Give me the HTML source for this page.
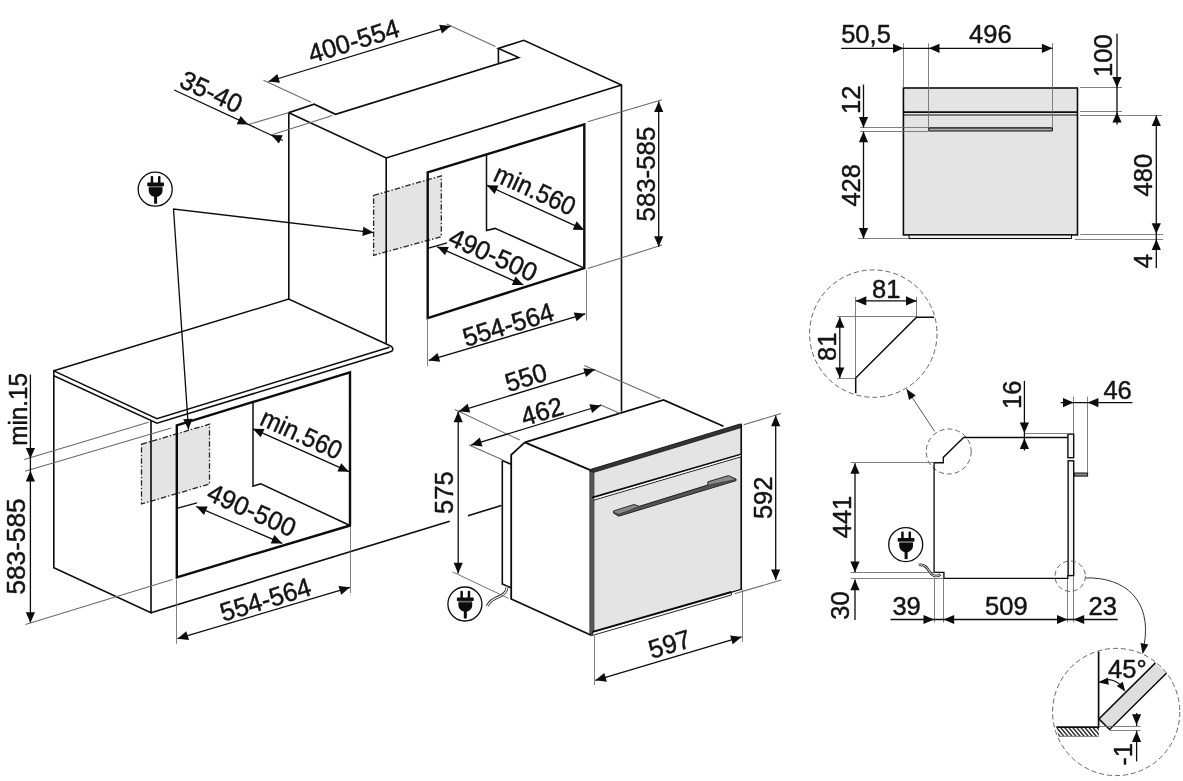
<!DOCTYPE html>
<html lang="en"><head><meta charset="utf-8"><title>Oven installation dimensions</title>
<style>
html,body{margin:0;padding:0;background:#fff;}
body{width:1183px;height:781px;overflow:hidden;}
svg{display:block;will-change:transform;}
svg text{font-family:"Liberation Sans",sans-serif;fill:#141414;stroke:#141414;stroke-width:0.45px;stroke-linejoin:round;}
</style></head><body>
<svg width="1183" height="781" viewBox="0 0 1183 781">
<defs><pattern id="hatch" width="3.1" height="3.1" patternUnits="userSpaceOnUse" patternTransform="rotate(-40)"><rect width="3.1" height="3.1" fill="#fff"/><rect width="1.35" height="3.1" fill="#1c1c1c"/></pattern></defs>
<rect width="1183" height="781" fill="#fff"/>
<path d="M373.6,195.4 L441.3,175.8 L441.3,236.7 L373.6,255.3 Z" fill="#e4e4e4" stroke="#222" stroke-width="1.3" stroke-linejoin="miter" stroke-dasharray="5.5 2 1.5 2"/>
<path d="M141.5,444.3 L209.5,424.1 L209.5,484.0 L141.5,504.0 Z" fill="#e4e4e4" stroke="#222" stroke-width="1.3" stroke-linejoin="miter" stroke-dasharray="5.5 2 1.5 2"/>
<path d="M288.8,299.2 L288.8,112.7 L314.2,104.2 L335.5,114.3 L518.7,57.5 L498.4,48.4 L523.8,40.3 L621.5,84.9 L621.5,411.6" fill="none" stroke="#0c0c0c" stroke-width="1.6" stroke-linejoin="miter" />
<path d="M498.4,48.4 L498.4,63.6" fill="none" stroke="#0c0c0c" stroke-width="1.6" stroke-linejoin="miter" />
<path d="M288.8,112.7 L386.2,158.0 L621.5,84.9" fill="none" stroke="#0c0c0c" stroke-width="1.6" stroke-linejoin="miter" />
<path d="M386.2,158.0 L386.2,343.0" fill="none" stroke="#0c0c0c" stroke-width="1.6" stroke-linejoin="miter" />
<path d="M427.7,172.4 L584.3,124.4 L584.3,268.1 L427.7,318.2 Z" fill="none" stroke="#0c0c0c" stroke-width="2.4" stroke-linejoin="miter" />
<path d="M486.5,154.3 L486.5,230.6 L495.1,228.4 L584.3,268.1" fill="none" stroke="#0c0c0c" stroke-width="1.5" stroke-linejoin="miter" />
<line x1="427.7" y1="248.4" x2="447.0" y2="242.8" stroke="#0c0c0c" stroke-width="1.3" />
<path d="M53.8,370.8 L288.7,299.1 L388.5,345.0 L391.6,346.6 L393.0,348.8 L392.2,351.0 L389.0,352.2 L156.9,423.2 L53.8,375.8 L53.8,370.8 L156.9,418.6 L389.5,347.3" fill="none" stroke="#0c0c0c" stroke-width="1.5" stroke-linejoin="miter" />
<path d="M53.8,375.8 L53.8,567.7 L151.0,612.7 L151.0,421.0" fill="none" stroke="#0c0c0c" stroke-width="1.6" stroke-linejoin="miter" />
<line x1="151.0" y1="612.7" x2="449.7" y2="521.3" stroke="#0c0c0c" stroke-width="1.6" />
<line x1="468.0" y1="515.7" x2="501.4" y2="505.5" stroke="#0c0c0c" stroke-width="1.6" />
<path d="M176.8,425.4 L350.0,372.3 L350.0,525.5 L176.8,577.3 Z" fill="none" stroke="#0c0c0c" stroke-width="2.4" stroke-linejoin="miter" />
<path d="M253.0,402.2 L253.0,486.2 L260.8,483.8 L350.0,525.5" fill="none" stroke="#0c0c0c" stroke-width="1.5" stroke-linejoin="miter" />
<line x1="176.8" y1="508.4" x2="197.0" y2="502.8" stroke="#0c0c0c" stroke-width="1.3" />
<path d="M373.4,232.6 L173.5,209.0 L188.5,429.6" fill="none" stroke="#0c0c0c" stroke-width="1.3" stroke-linejoin="miter" />
<polygon points="373.4,232.6 362.3,235.9 363.4,226.8" fill="#0c0c0c"/>
<polygon points="188.5,429.6 183.2,419.3 192.4,418.7" fill="#0c0c0c"/>
<g transform="translate(155.2,189.2)"><circle r="17" fill="#fff" stroke="#0c0c0c" stroke-width="1.3"/><g transform="translate(0.4,0)"><rect x="-4.9" y="-13.2" width="2.5" height="8" rx="1" fill="#0c0c0c"/><rect x="2.4" y="-13.2" width="2.5" height="8" rx="1" fill="#0c0c0c"/><rect x="-8.4" y="-6.6" width="16.8" height="3.7" rx="0.8" fill="#0c0c0c"/><rect x="-6.8" y="-3.2" width="13.6" height="2.2" fill="#6a6a6a"/><path d="M-6.9,-1.6 H6.9 V1.2 C6.9,4.6 4.6,6.6 1.6,7.6 H-1.6 C-4.6,6.6 -6.9,4.6 -6.9,1.2 Z" fill="#0c0c0c"/><rect x="-1.5" y="6.5" width="3" height="8" fill="#0c0c0c"/></g></g>
<line x1="248.3" y1="124.5" x2="289.0" y2="112.6" stroke="#6a6a6a" stroke-width="1.05" />
<line x1="271.2" y1="135.0" x2="332.4" y2="115.4" stroke="#6a6a6a" stroke-width="1.05" />
<line x1="174.2" y1="90.0" x2="282.7" y2="140.5" stroke="#0c0c0c" stroke-width="1.3" />
<polygon points="248.3,124.5 236.7,124.2 240.6,115.9" fill="#0c0c0c"/>
<polygon points="271.2,135.0 282.8,135.3 278.9,143.6" fill="#0c0c0c"/>
<text transform="translate(211.5,91.5) rotate(25) scale(0.975,1)" x="0" y="9.4" font-size="26.2" text-anchor="middle">35-40</text>
<line x1="263.5" y1="80.3" x2="311.1" y2="102.2" stroke="#6a6a6a" stroke-width="1.05" />
<line x1="446.7" y1="24.0" x2="495.4" y2="46.4" stroke="#6a6a6a" stroke-width="1.05" />
<line x1="268.5" y1="81.5" x2="450.7" y2="26.1" stroke="#0c0c0c" stroke-width="1.3" />
<polygon points="268.5,81.5 277.3,74.0 280.0,82.8" fill="#0c0c0c"/>
<polygon points="450.7,26.1 441.9,33.6 439.2,24.8" fill="#0c0c0c"/>
<text transform="translate(353.5,40.6) rotate(-16.9) scale(0.975,1)" x="0" y="9.4" font-size="26.2" text-anchor="middle">400-554</text>
<line x1="486.9" y1="185.3" x2="584.3" y2="229.9" stroke="#0c0c0c" stroke-width="1.3" />
<polygon points="486.9,185.3 498.5,185.5 494.6,193.9" fill="#0c0c0c"/>
<polygon points="584.3,229.9 572.7,229.7 576.6,221.3" fill="#0c0c0c"/>
<text transform="translate(535.3,189.6) rotate(24.6) scale(0.927,1)" x="0" y="9.4" font-size="26.2" text-anchor="middle">min.560</text>
<line x1="437.2" y1="246.8" x2="523.4" y2="285.0" stroke="#0c0c0c" stroke-width="1.3" />
<polygon points="437.2,246.8 448.8,246.9 445.0,255.3" fill="#0c0c0c"/>
<polygon points="523.4,285.0 511.8,284.9 515.6,276.5" fill="#0c0c0c"/>
<text transform="translate(493.3,254.5) rotate(24) scale(0.975,1)" x="0" y="9.4" font-size="26.2" text-anchor="middle">490-500</text>
<line x1="587.7" y1="121.7" x2="662.0" y2="99.7" stroke="#6a6a6a" stroke-width="1.05" />
<line x1="587.7" y1="268.6" x2="662.0" y2="245.1" stroke="#6a6a6a" stroke-width="1.05" />
<line x1="658.7" y1="101.4" x2="658.7" y2="246.8" stroke="#0c0c0c" stroke-width="1.3" />
<polygon points="658.7,101.4 663.3,112.0 654.1,112.0" fill="#0c0c0c"/>
<polygon points="658.7,246.8 654.1,236.2 663.3,236.2" fill="#0c0c0c"/>
<text transform="translate(645.1,174.1) rotate(-90) scale(0.985,1)" x="0" y="9.4" font-size="26.2" text-anchor="middle">583-585</text>
<line x1="427.5" y1="318.2" x2="427.5" y2="366.2" stroke="#6a6a6a" stroke-width="0.85" />
<line x1="586.5" y1="269.8" x2="586.5" y2="320.5" stroke="#6a6a6a" stroke-width="0.85" />
<line x1="428.7" y1="360.4" x2="585.3" y2="313.8" stroke="#0c0c0c" stroke-width="1.3" />
<polygon points="428.7,360.4 437.5,353.0 440.2,361.8" fill="#0c0c0c"/>
<polygon points="585.3,313.8 576.5,321.2 573.8,312.4" fill="#0c0c0c"/>
<text transform="translate(508.0,324.3) rotate(-16.9) scale(0.975,1)" x="0" y="9.4" font-size="26.2" text-anchor="middle">554-564</text>
<line x1="252.9" y1="428.8" x2="349.0" y2="471.7" stroke="#0c0c0c" stroke-width="1.3" />
<polygon points="252.9,428.8 264.5,428.9 260.7,437.3" fill="#0c0c0c"/>
<polygon points="349.0,471.7 337.4,471.6 341.2,463.2" fill="#0c0c0c"/>
<text transform="translate(301.6,433.6) rotate(24.6) scale(0.927,1)" x="0" y="9.4" font-size="26.2" text-anchor="middle">min.560</text>
<line x1="196.1" y1="506.5" x2="282.3" y2="543.4" stroke="#0c0c0c" stroke-width="1.3" />
<polygon points="196.1,506.5 207.7,506.4 204.0,514.9" fill="#0c0c0c"/>
<polygon points="282.3,543.4 270.7,543.5 274.4,535.0" fill="#0c0c0c"/>
<text transform="translate(251.9,509.8) rotate(24) scale(0.975,1)" x="0" y="9.4" font-size="26.2" text-anchor="middle">490-500</text>
<line x1="176.5" y1="579.5" x2="176.5" y2="643.8" stroke="#6a6a6a" stroke-width="0.85" />
<line x1="350.5" y1="527.0" x2="350.5" y2="593.0" stroke="#6a6a6a" stroke-width="0.85" />
<line x1="177.5" y1="638.7" x2="350.0" y2="587.3" stroke="#0c0c0c" stroke-width="1.3" />
<polygon points="177.5,638.7 186.3,631.3 189.0,640.1" fill="#0c0c0c"/>
<polygon points="350.0,587.3 341.2,594.7 338.5,585.9" fill="#0c0c0c"/>
<text transform="translate(265.4,599.2) rotate(-16.9) scale(0.975,1)" x="0" y="9.4" font-size="26.2" text-anchor="middle">554-564</text>
<line x1="24.2" y1="459.5" x2="148.5" y2="422.3" stroke="#6a6a6a" stroke-width="1.05" />
<line x1="25.0" y1="471.2" x2="171.3" y2="427.9" stroke="#6a6a6a" stroke-width="1.05" />
<line x1="25.4" y1="624.5" x2="172.4" y2="579.5" stroke="#6a6a6a" stroke-width="1.05" />
<line x1="30.4" y1="374.6" x2="30.4" y2="622.5" stroke="#0c0c0c" stroke-width="1.3" />
<polygon points="30.4,458.6 25.8,448.0 35.0,448.0" fill="#0c0c0c"/>
<polygon points="30.4,470.8 35.0,481.4 25.8,481.4" fill="#0c0c0c"/>
<polygon points="30.4,622.8 25.8,612.2 35.0,612.2" fill="#0c0c0c"/>
<text transform="translate(17.6,409.4) rotate(-90) scale(0.927,1)" x="0" y="9.4" font-size="26.2" text-anchor="middle">min.15</text>
<text transform="translate(15.9,546.5) rotate(-90) scale(1.0,1)" x="0" y="9.4" font-size="26.2" text-anchor="middle">583-585</text>
<path d="M524.8,442.4 L663.5,400.0 L723.5,426.3" fill="none" stroke="#0c0c0c" stroke-width="1.8" stroke-linejoin="miter" />
<path d="M524.8,442.4 L511.2,454.8 L511.2,599.0 L591.7,635.5" fill="none" stroke="#0c0c0c" stroke-width="1.8" stroke-linejoin="miter" />
<path d="M524.8,442.4 L590.4,470.2" fill="none" stroke="#0c0c0c" stroke-width="1.8" stroke-linejoin="miter" />
<path d="M502.3,460.4 L502.3,584.0 L511.2,587.8" fill="none" stroke="#0c0c0c" stroke-width="1.6" stroke-linejoin="miter" />
<path d="M502.3,460.4 L511.2,464.3" fill="none" stroke="#0c0c0c" stroke-width="1.6" stroke-linejoin="miter" />
<path d="M590.4,470.0 L741.3,424.3 L741.3,589.3 L590.4,634.0 Z" fill="#e4e4e4" stroke="#0c0c0c" stroke-width="1.2" stroke-linejoin="miter" />
<path d="M589.9,469.8 L594.0,471.5 L594.0,632.6 L589.9,633.8 Z" fill="#5a5a5a" stroke="#222" stroke-width="0.6" stroke-linejoin="miter" />
<path d="M589.9,469.6 L739.8,424.0 L741.6,424.8 L741.6,427.4 L594.0,472.3 L589.9,471.2 Z" fill="#333" stroke="#1a1a1a" stroke-width="0.8" stroke-linejoin="miter" />
<line x1="741.3" y1="424.5" x2="741.3" y2="589.3" stroke="#0c0c0c" stroke-width="1.5" />
<line x1="592.0" y1="497.6" x2="741.0" y2="454.2" stroke="#0c0c0c" stroke-width="1.7" />
<line x1="594.0" y1="500.1" x2="741.0" y2="456.8" stroke="#0c0c0c" stroke-width="0.9" />
<path d="M594,498.9 L741,455.6" stroke="#fff" stroke-width="0.9" fill="none"/>
<path d="M613.5,511.0 L634.0,504.5 L639.3,506.3 L707.8,485.0 L707.8,481.8 L728.4,475.6 L736.0,479.0 L736.0,480.6 L618.8,516.1 L613.5,513.0 Z" fill="#8a8a8a" stroke="#1a1a1a" stroke-width="0.9" stroke-linejoin="miter" />
<path d="M639.3,506.6 L707.8,485.3 L736.0,479.4 L736.0,480.6 L618.8,516.1 L613.5,513.0 L613.5,512.4 L619.0,514.2 Z" fill="#555" stroke="#1a1a1a" stroke-width="0.5" stroke-linejoin="miter" />
<path d="M592.5,632.2 L731.4,592.0 L731.4,595.0 L592.5,635.4 Z" fill="#fff" stroke="#0c0c0c" stroke-width="0.9" stroke-linejoin="miter" />
<line x1="592.5" y1="631.8" x2="731.4" y2="592.0" stroke="#0c0c0c" stroke-width="1.9" />
<path d="M507.1,587.2 C506.6,593.8 501.5,595.9 497.4,597.4 C493,599 489.2,602 487.1,606.1" fill="none" stroke="#2a2a2a" stroke-width="2.8"/>
<path d="M507.1,586.6 C506.6,593.8 501.5,595.9 497.4,597.4 C493,599 489.2,602 486.8,606.8" fill="none" stroke="#fff" stroke-width="1.1"/>
<g transform="translate(464.9,604.0)"><circle r="17" fill="#fff" stroke="#0c0c0c" stroke-width="1.3"/><g transform="translate(0.4,0)"><rect x="-4.9" y="-13.2" width="2.5" height="8" rx="1" fill="#0c0c0c"/><rect x="2.4" y="-13.2" width="2.5" height="8" rx="1" fill="#0c0c0c"/><rect x="-8.4" y="-6.6" width="16.8" height="3.7" rx="0.8" fill="#0c0c0c"/><rect x="-6.8" y="-3.2" width="13.6" height="2.2" fill="#6a6a6a"/><path d="M-6.9,-1.6 H6.9 V1.2 C6.9,4.6 4.6,6.6 1.6,7.6 H-1.6 C-4.6,6.6 -6.9,4.6 -6.9,1.2 Z" fill="#0c0c0c"/><rect x="-1.5" y="6.5" width="3" height="8" fill="#0c0c0c"/></g></g>
<line x1="454.8" y1="409.6" x2="519.7" y2="440.0" stroke="#6a6a6a" stroke-width="1.05" />
<line x1="584.3" y1="365.5" x2="660.4" y2="398.4" stroke="#6a6a6a" stroke-width="1.05" />
<line x1="458.8" y1="411.3" x2="594.8" y2="369.6" stroke="#0c0c0c" stroke-width="1.3" />
<polygon points="458.8,411.3 467.6,403.8 470.3,412.6" fill="#0c0c0c"/>
<polygon points="594.8,369.6 586.0,377.1 583.3,368.3" fill="#0c0c0c"/>
<text transform="translate(525.8,377.0) rotate(-16.9) scale(0.975,1)" x="0" y="9.4" font-size="26.2" text-anchor="middle">550</text>
<line x1="469.0" y1="445.1" x2="503.0" y2="460.0" stroke="#6a6a6a" stroke-width="1.05" />
<line x1="599.8" y1="404.5" x2="620.1" y2="413.6" stroke="#6a6a6a" stroke-width="1.05" />
<line x1="471.0" y1="445.1" x2="600.9" y2="405.5" stroke="#0c0c0c" stroke-width="1.3" />
<polygon points="471.0,445.1 479.8,437.6 482.5,446.4" fill="#0c0c0c"/>
<polygon points="600.9,405.5 592.1,413.0 589.4,404.2" fill="#0c0c0c"/>
<text transform="translate(542.0,411.0) rotate(-16.9) scale(0.975,1)" x="0" y="9.4" font-size="26.2" text-anchor="middle">462</text>
<line x1="452.5" y1="571.9" x2="508.6" y2="598.4" stroke="#6a6a6a" stroke-width="1.05" />
<line x1="458.2" y1="411.6" x2="458.2" y2="573.4" stroke="#0c0c0c" stroke-width="1.3" />
<polygon points="458.2,411.6 462.8,422.2 453.6,422.2" fill="#0c0c0c"/>
<polygon points="458.2,573.4 453.6,562.8 462.8,562.8" fill="#0c0c0c"/>
<text transform="translate(444.0,492.7) rotate(-90) scale(0.975,1)" x="0" y="9.4" font-size="26.2" text-anchor="middle">575</text>
<line x1="743.6" y1="424.8" x2="781.0" y2="413.4" stroke="#6a6a6a" stroke-width="1.05" />
<line x1="734.5" y1="593.7" x2="781.1" y2="580.1" stroke="#6a6a6a" stroke-width="1.05" />
<line x1="775.7" y1="415.6" x2="775.7" y2="580.1" stroke="#0c0c0c" stroke-width="1.3" />
<polygon points="775.7,415.6 780.3,426.2 771.1,426.2" fill="#0c0c0c"/>
<polygon points="775.7,580.1 771.1,569.5 780.3,569.5" fill="#0c0c0c"/>
<text transform="translate(762.9,497.8) rotate(-90) scale(0.975,1)" x="0" y="9.4" font-size="26.2" text-anchor="middle">592</text>
<line x1="594.5" y1="635.9" x2="594.5" y2="685.0" stroke="#6a6a6a" stroke-width="0.85" />
<line x1="742.5" y1="589.3" x2="742.5" y2="642.0" stroke="#6a6a6a" stroke-width="0.85" />
<line x1="595.4" y1="680.3" x2="741.6" y2="636.9" stroke="#0c0c0c" stroke-width="1.3" />
<polygon points="595.4,680.3 604.3,672.9 606.9,681.7" fill="#0c0c0c"/>
<polygon points="741.6,636.9 732.7,644.3 730.1,635.5" fill="#0c0c0c"/>
<text transform="translate(669.5,643.8) rotate(-16.9) scale(0.975,1)" x="0" y="9.4" font-size="26.2" text-anchor="middle">597</text>
<rect x="903.4" y="88" width="174.1" height="146.9" fill="#e4e4e4" stroke="#0c0c0c" stroke-width="1.6"/>
<rect x="909.1" y="235" width="162.4" height="3.5" fill="#f4f4f4" stroke="#0c0c0c" stroke-width="1.1"/>
<line x1="903.4" y1="112.1" x2="1077.5" y2="112.1" stroke="#0c0c0c" stroke-width="1.6" />
<line x1="903.4" y1="115.0" x2="1077.5" y2="115.0" stroke="#0c0c0c" stroke-width="1.1" />
<rect x="928.8" y="127.9" width="123.6" height="3.1" rx="0.8" fill="#aaa" stroke="#0c0c0c" stroke-width="1.1"/>
<line x1="903.5" y1="43.3" x2="903.5" y2="87.9" stroke="#6a6a6a" stroke-width="0.85" />
<line x1="928.5" y1="43.3" x2="928.5" y2="127.8" stroke="#6a6a6a" stroke-width="0.85" />
<line x1="1052.5" y1="43.3" x2="1052.5" y2="127.8" stroke="#6a6a6a" stroke-width="0.85" />
<line x1="841.2" y1="48.3" x2="1052.5" y2="48.3" stroke="#0c0c0c" stroke-width="1.3" />
<polygon points="903.6,48.3 893.0,52.9 893.0,43.7" fill="#0c0c0c"/>
<polygon points="928.9,48.3 939.5,43.7 939.5,52.9" fill="#0c0c0c"/>
<polygon points="1052.5,48.3 1041.9,52.9 1041.9,43.7" fill="#0c0c0c"/>
<text transform="translate(866.0,33.3) rotate(0) scale(0.975,1)" x="0" y="9.4" font-size="26.2" text-anchor="middle">50,5</text>
<text transform="translate(990.4,33.3) rotate(0) scale(0.975,1)" x="0" y="9.4" font-size="26.2" text-anchor="middle">496</text>
<line x1="1080.0" y1="87.5" x2="1122.0" y2="87.5" stroke="#6a6a6a" stroke-width="0.85" />
<line x1="1080.0" y1="111.5" x2="1122.0" y2="111.5" stroke="#6a6a6a" stroke-width="0.85" />
<line x1="1080.0" y1="115.5" x2="1162.0" y2="115.5" stroke="#6a6a6a" stroke-width="0.85" />
<line x1="1117.0" y1="33.8" x2="1117.0" y2="124.4" stroke="#0c0c0c" stroke-width="1.3" />
<polygon points="1117.0,87.6 1112.4,77.0 1121.6,77.0" fill="#0c0c0c"/>
<polygon points="1117.0,112.0 1121.6,122.6 1112.4,122.6" fill="#0c0c0c"/>
<text transform="translate(1102.8,55.6) rotate(-90) scale(0.975,1)" x="0" y="9.4" font-size="26.2" text-anchor="middle">100</text>
<line x1="1080.3" y1="234.5" x2="1163.0" y2="234.5" stroke="#6a6a6a" stroke-width="0.85" />
<line x1="1074.9" y1="239.5" x2="1163.0" y2="239.5" stroke="#6a6a6a" stroke-width="0.85" />
<line x1="1156.3" y1="115.6" x2="1156.3" y2="268.0" stroke="#0c0c0c" stroke-width="1.3" />
<polygon points="1156.3,115.4 1160.9,126.0 1151.7,126.0" fill="#0c0c0c"/>
<polygon points="1156.3,233.8 1151.7,223.2 1160.9,223.2" fill="#0c0c0c"/>
<polygon points="1156.3,239.3 1160.9,249.9 1151.7,249.9" fill="#0c0c0c"/>
<text transform="translate(1142.2,175.1) rotate(-90) scale(0.975,1)" x="0" y="9.4" font-size="26.2" text-anchor="middle">480</text>
<text transform="translate(1142.2,261.2) rotate(-90) scale(0.975,1)" x="0" y="9.4" font-size="26.2" text-anchor="middle">4</text>
<line x1="860.1" y1="127.5" x2="928.6" y2="127.5" stroke="#6a6a6a" stroke-width="0.85" />
<line x1="860.1" y1="131.5" x2="928.6" y2="131.5" stroke="#6a6a6a" stroke-width="0.85" />
<line x1="858.0" y1="238.5" x2="909.0" y2="238.5" stroke="#6a6a6a" stroke-width="0.85" />
<line x1="863.5" y1="84.5" x2="863.5" y2="127.5" stroke="#0c0c0c" stroke-width="1.3" />
<polygon points="863.5,127.5 858.9,116.9 868.1,116.9" fill="#0c0c0c"/>
<line x1="863.5" y1="131.6" x2="863.5" y2="238.6" stroke="#0c0c0c" stroke-width="1.3" />
<polygon points="863.5,131.6 868.1,142.2 858.9,142.2" fill="#0c0c0c"/>
<polygon points="863.5,238.6 858.9,228.0 868.1,228.0" fill="#0c0c0c"/>
<text transform="translate(850.6,99.7) rotate(-90) scale(0.975,1)" x="0" y="9.4" font-size="26.2" text-anchor="middle">12</text>
<text transform="translate(850.6,185.3) rotate(-90) scale(0.975,1)" x="0" y="9.4" font-size="26.2" text-anchor="middle">428</text>
<circle cx="873.3" cy="333.6" r="63.7" fill="none" stroke="#666" stroke-width="1" stroke-dasharray="5 3"/>
<line x1="855.5" y1="296.9" x2="855.5" y2="378.0" stroke="#6a6a6a" stroke-width="0.85" />
<line x1="916.5" y1="296.9" x2="916.5" y2="317.2" stroke="#6a6a6a" stroke-width="0.85" />
<line x1="837.1" y1="316.5" x2="916.6" y2="316.5" stroke="#6a6a6a" stroke-width="0.85" />
<line x1="837.1" y1="378.5" x2="855.7" y2="378.5" stroke="#6a6a6a" stroke-width="0.85" />
<path d="M855.7,393.2 L855.7,378.0 L916.6,317.2 L934.1,317.2" fill="none" stroke="#0c0c0c" stroke-width="1.5" stroke-linejoin="miter" />
<line x1="855.7" y1="300.9" x2="916.6" y2="300.9" stroke="#0c0c0c" stroke-width="1.3" />
<polygon points="855.7,300.9 866.3,296.3 866.3,305.5" fill="#0c0c0c"/>
<polygon points="916.6,300.9 906.0,305.5 906.0,296.3" fill="#0c0c0c"/>
<line x1="839.8" y1="317.2" x2="839.8" y2="378.0" stroke="#0c0c0c" stroke-width="1.3" />
<polygon points="839.8,317.2 844.4,327.8 835.2,327.8" fill="#0c0c0c"/>
<polygon points="839.8,378.0 835.2,367.4 844.4,367.4" fill="#0c0c0c"/>
<text transform="translate(886.3,288.6) rotate(0) scale(0.975,1)" x="0" y="9.4" font-size="26.2" text-anchor="middle">81</text>
<text transform="translate(826.3,346.8) rotate(-90) scale(0.975,1)" x="0" y="9.4" font-size="26.2" text-anchor="middle">81</text>
<line x1="934.6" y1="431.3" x2="906.5" y2="389.0" stroke="#444" stroke-width="0.9" />
<polygon points="906.5,389.0 915.7,395.6 909.0,400.0" fill="#0c0c0c"/>
<circle cx="948.7" cy="451.5" r="22.5" fill="none" stroke="#666" stroke-width="1" stroke-dasharray="5 3"/>
<path d="M934.1,572.4 L934.1,462.7 L943.3,462.7 L943.3,457.4 L963.6,437.5 L1067.8,437.5" fill="none" stroke="#0c0c0c" stroke-width="1.35" stroke-linejoin="miter" />
<path d="M934.1,572.4 L943.9,572.4 L943.9,578.4 L1067.8,578.4 L1067.8,575.0" fill="none" stroke="#0c0c0c" stroke-width="1.35" stroke-linejoin="miter" />
<rect x="1067.9" y="434.1" width="5.8" height="23.6" fill="#f4f4f4" stroke="#0c0c0c" stroke-width="1.4"/>
<rect x="1068.1" y="460.8" width="5.6" height="114.8" fill="#f4f4f4" stroke="#0c0c0c" stroke-width="1.4"/>
<rect x="1074.4" y="473" width="13.2" height="3.1" fill="#888" stroke="#0c0c0c" stroke-width="1"/>
<line x1="1024.1" y1="433.5" x2="1067.0" y2="433.5" stroke="#6a6a6a" stroke-width="0.85" />
<line x1="1024.4" y1="380.8" x2="1024.4" y2="450.6" stroke="#0c0c0c" stroke-width="1.3" />
<polygon points="1024.4,433.0 1019.8,422.4 1029.0,422.4" fill="#0c0c0c"/>
<polygon points="1024.4,438.3 1029.0,448.9 1019.8,448.9" fill="#0c0c0c"/>
<text transform="translate(1011.8,394.7) rotate(-90) scale(0.975,1)" x="0" y="9.4" font-size="26.2" text-anchor="middle">16</text>
<line x1="1073.5" y1="396.6" x2="1073.5" y2="433.8" stroke="#6a6a6a" stroke-width="0.85" />
<line x1="1087.5" y1="396.6" x2="1087.5" y2="473.0" stroke="#6a6a6a" stroke-width="0.85" />
<line x1="1060.6" y1="402.6" x2="1132.5" y2="402.6" stroke="#0c0c0c" stroke-width="1.3" />
<polygon points="1073.6,402.6 1063.0,407.2 1063.0,398.0" fill="#0c0c0c"/>
<polygon points="1087.8,402.6 1098.4,398.0 1098.4,407.2" fill="#0c0c0c"/>
<text transform="translate(1117.6,389.4) rotate(0) scale(0.975,1)" x="0" y="9.4" font-size="26.2" text-anchor="middle">46</text>
<line x1="850.6" y1="462.5" x2="934.1" y2="462.5" stroke="#6a6a6a" stroke-width="0.85" />
<line x1="850.6" y1="572.5" x2="934.1" y2="572.5" stroke="#6a6a6a" stroke-width="0.85" />
<line x1="850.6" y1="578.5" x2="943.6" y2="578.5" stroke="#6a6a6a" stroke-width="0.85" />
<line x1="855.0" y1="463.2" x2="855.0" y2="572.2" stroke="#0c0c0c" stroke-width="1.3" />
<polygon points="855.0,463.2 859.6,473.8 850.4,473.8" fill="#0c0c0c"/>
<polygon points="855.0,572.2 850.4,561.6 859.6,561.6" fill="#0c0c0c"/>
<text transform="translate(841.6,517.0) rotate(-90) scale(0.975,1)" x="0" y="9.4" font-size="26.2" text-anchor="middle">441</text>
<line x1="855.0" y1="579.6" x2="855.0" y2="620.1" stroke="#0c0c0c" stroke-width="1.3" />
<polygon points="855.0,579.6 859.6,590.2 850.4,590.2" fill="#0c0c0c"/>
<text transform="translate(839.5,605.6) rotate(-90) scale(0.975,1)" x="0" y="9.4" font-size="26.2" text-anchor="middle">30</text>
<line x1="934.5" y1="578.9" x2="934.5" y2="622.5" stroke="#6a6a6a" stroke-width="0.85" />
<line x1="943.5" y1="578.9" x2="943.5" y2="622.5" stroke="#6a6a6a" stroke-width="0.85" />
<line x1="1067.5" y1="578.9" x2="1067.5" y2="622.5" stroke="#6a6a6a" stroke-width="0.85" />
<line x1="1073.5" y1="576.2" x2="1073.5" y2="622.5" stroke="#6a6a6a" stroke-width="0.85" />
<line x1="890.5" y1="619.5" x2="1117.7" y2="619.5" stroke="#0c0c0c" stroke-width="1.3" />
<polygon points="934.1,619.5 923.5,624.1 923.5,614.9" fill="#0c0c0c"/>
<polygon points="943.6,619.5 954.2,614.9 954.2,624.1" fill="#0c0c0c"/>
<polygon points="1067.6,619.5 1057.0,624.1 1057.0,614.9" fill="#0c0c0c"/>
<polygon points="1073.6,619.5 1084.2,614.9 1084.2,624.1" fill="#0c0c0c"/>
<text transform="translate(906.6,605.4) rotate(0) scale(0.975,1)" x="0" y="9.4" font-size="26.2" text-anchor="middle">39</text>
<text transform="translate(1006.4,605.4) rotate(0) scale(0.975,1)" x="0" y="9.4" font-size="26.2" text-anchor="middle">509</text>
<text transform="translate(1102.8,605.4) rotate(0) scale(0.975,1)" x="0" y="9.4" font-size="26.2" text-anchor="middle">23</text>
<path d="M918.7,565.1 C924,564 927.1,567.1 929.2,571.2 C931.5,575.6 936,577.6 940.5,574.6" fill="none" stroke="#2a2a2a" stroke-width="2.6"/>
<path d="M918.7,565.1 C924,564 927.1,567.1 929.2,571.2 C931.5,575.6 936,577.6 940.5,574.6" fill="none" stroke="#fff" stroke-width="0.9"/>
<g transform="translate(905.7,544.6)"><circle r="17" fill="#fff" stroke="#0c0c0c" stroke-width="1.3"/><g transform="translate(0.4,0)"><rect x="-4.9" y="-13.2" width="2.5" height="8" rx="1" fill="#0c0c0c"/><rect x="2.4" y="-13.2" width="2.5" height="8" rx="1" fill="#0c0c0c"/><rect x="-8.4" y="-6.6" width="16.8" height="3.7" rx="0.8" fill="#0c0c0c"/><rect x="-6.8" y="-3.2" width="13.6" height="2.2" fill="#6a6a6a"/><path d="M-6.9,-1.6 H6.9 V1.2 C6.9,4.6 4.6,6.6 1.6,7.6 H-1.6 C-4.6,6.6 -6.9,4.6 -6.9,1.2 Z" fill="#0c0c0c"/><rect x="-1.5" y="6.5" width="3" height="8" fill="#0c0c0c"/></g></g>
<circle cx="1070.2" cy="576.2" r="15.2" fill="none" stroke="#666" stroke-width="1" stroke-dasharray="5 3"/>
<path d="M1085.6,577.9 C1125,577 1152,600 1144.2,645" fill="none" stroke="#333" stroke-width="1"/>
<polygon points="1142.6,654.2 1140.5,643.1 1148.4,644.5" fill="#0c0c0c"/>
<circle cx="1116.2" cy="712" r="63.6" fill="none" stroke="#666" stroke-width="1" stroke-dasharray="5 3"/>
<polygon points="1098.9,718.9 1155.4,662.9 1166.6,673 1109.6,729.5" fill="#dedede"/>
<path d="M1155.4,662.9 L1098.9,718.9 L1109.6,729.5 L1166.6,673.0" fill="none" stroke="#0c0c0c" stroke-width="1.5" stroke-linejoin="miter" />
<line x1="1098.6" y1="651.6" x2="1098.6" y2="727.0" stroke="#0c0c0c" stroke-width="1.7" />
<polygon points="1056.4,727.6 1098.9,727.6 1098.9,736.3 1058.6,736.3" fill="url(#hatch)"/>
<line x1="1056.4" y1="727.2" x2="1099.4" y2="727.2" stroke="#0c0c0c" stroke-width="1.7" />
<line x1="1058.6" y1="736.4" x2="1098.9" y2="736.4" stroke="#555" stroke-width="0.7" />
<line x1="1099.4" y1="726.5" x2="1140.5" y2="726.5" stroke="#6a6a6a" stroke-width="0.85" />
<line x1="1109.6" y1="730.5" x2="1140.5" y2="730.5" stroke="#6a6a6a" stroke-width="0.85" />
<path d="M1099.5,682.2 C1108,677 1119,680 1124.3,690.4" fill="none" stroke="#0c0c0c" stroke-width="1.1"/>
<polygon points="1098.9,682.4 1107.8,677.4 1108.8,684.8" fill="#0c0c0c"/>
<polygon points="1125.2,691.6 1116.7,686.0 1122.8,681.7" fill="#0c0c0c"/>
<text transform="translate(1127.3,668.2) rotate(0) scale(0.975,1)" x="0" y="9.4" font-size="26.2" text-anchor="middle">45°</text>
<line x1="1136.6" y1="713.1" x2="1136.6" y2="726.0" stroke="#0c0c0c" stroke-width="1.3" />
<polygon points="1136.6,724.9 1132.0,714.3 1141.2,714.3" fill="#0c0c0c"/>
<line x1="1136.6" y1="730.7" x2="1136.6" y2="761.4" stroke="#0c0c0c" stroke-width="1.3" />
<polygon points="1136.6,731.3 1141.2,741.9 1132.0,741.9" fill="#0c0c0c"/>
<text transform="translate(1122.3,754.3) rotate(-90) scale(0.975,1)" x="0" y="9.4" font-size="26.2" text-anchor="middle">-1</text>
</svg>
</body></html>
